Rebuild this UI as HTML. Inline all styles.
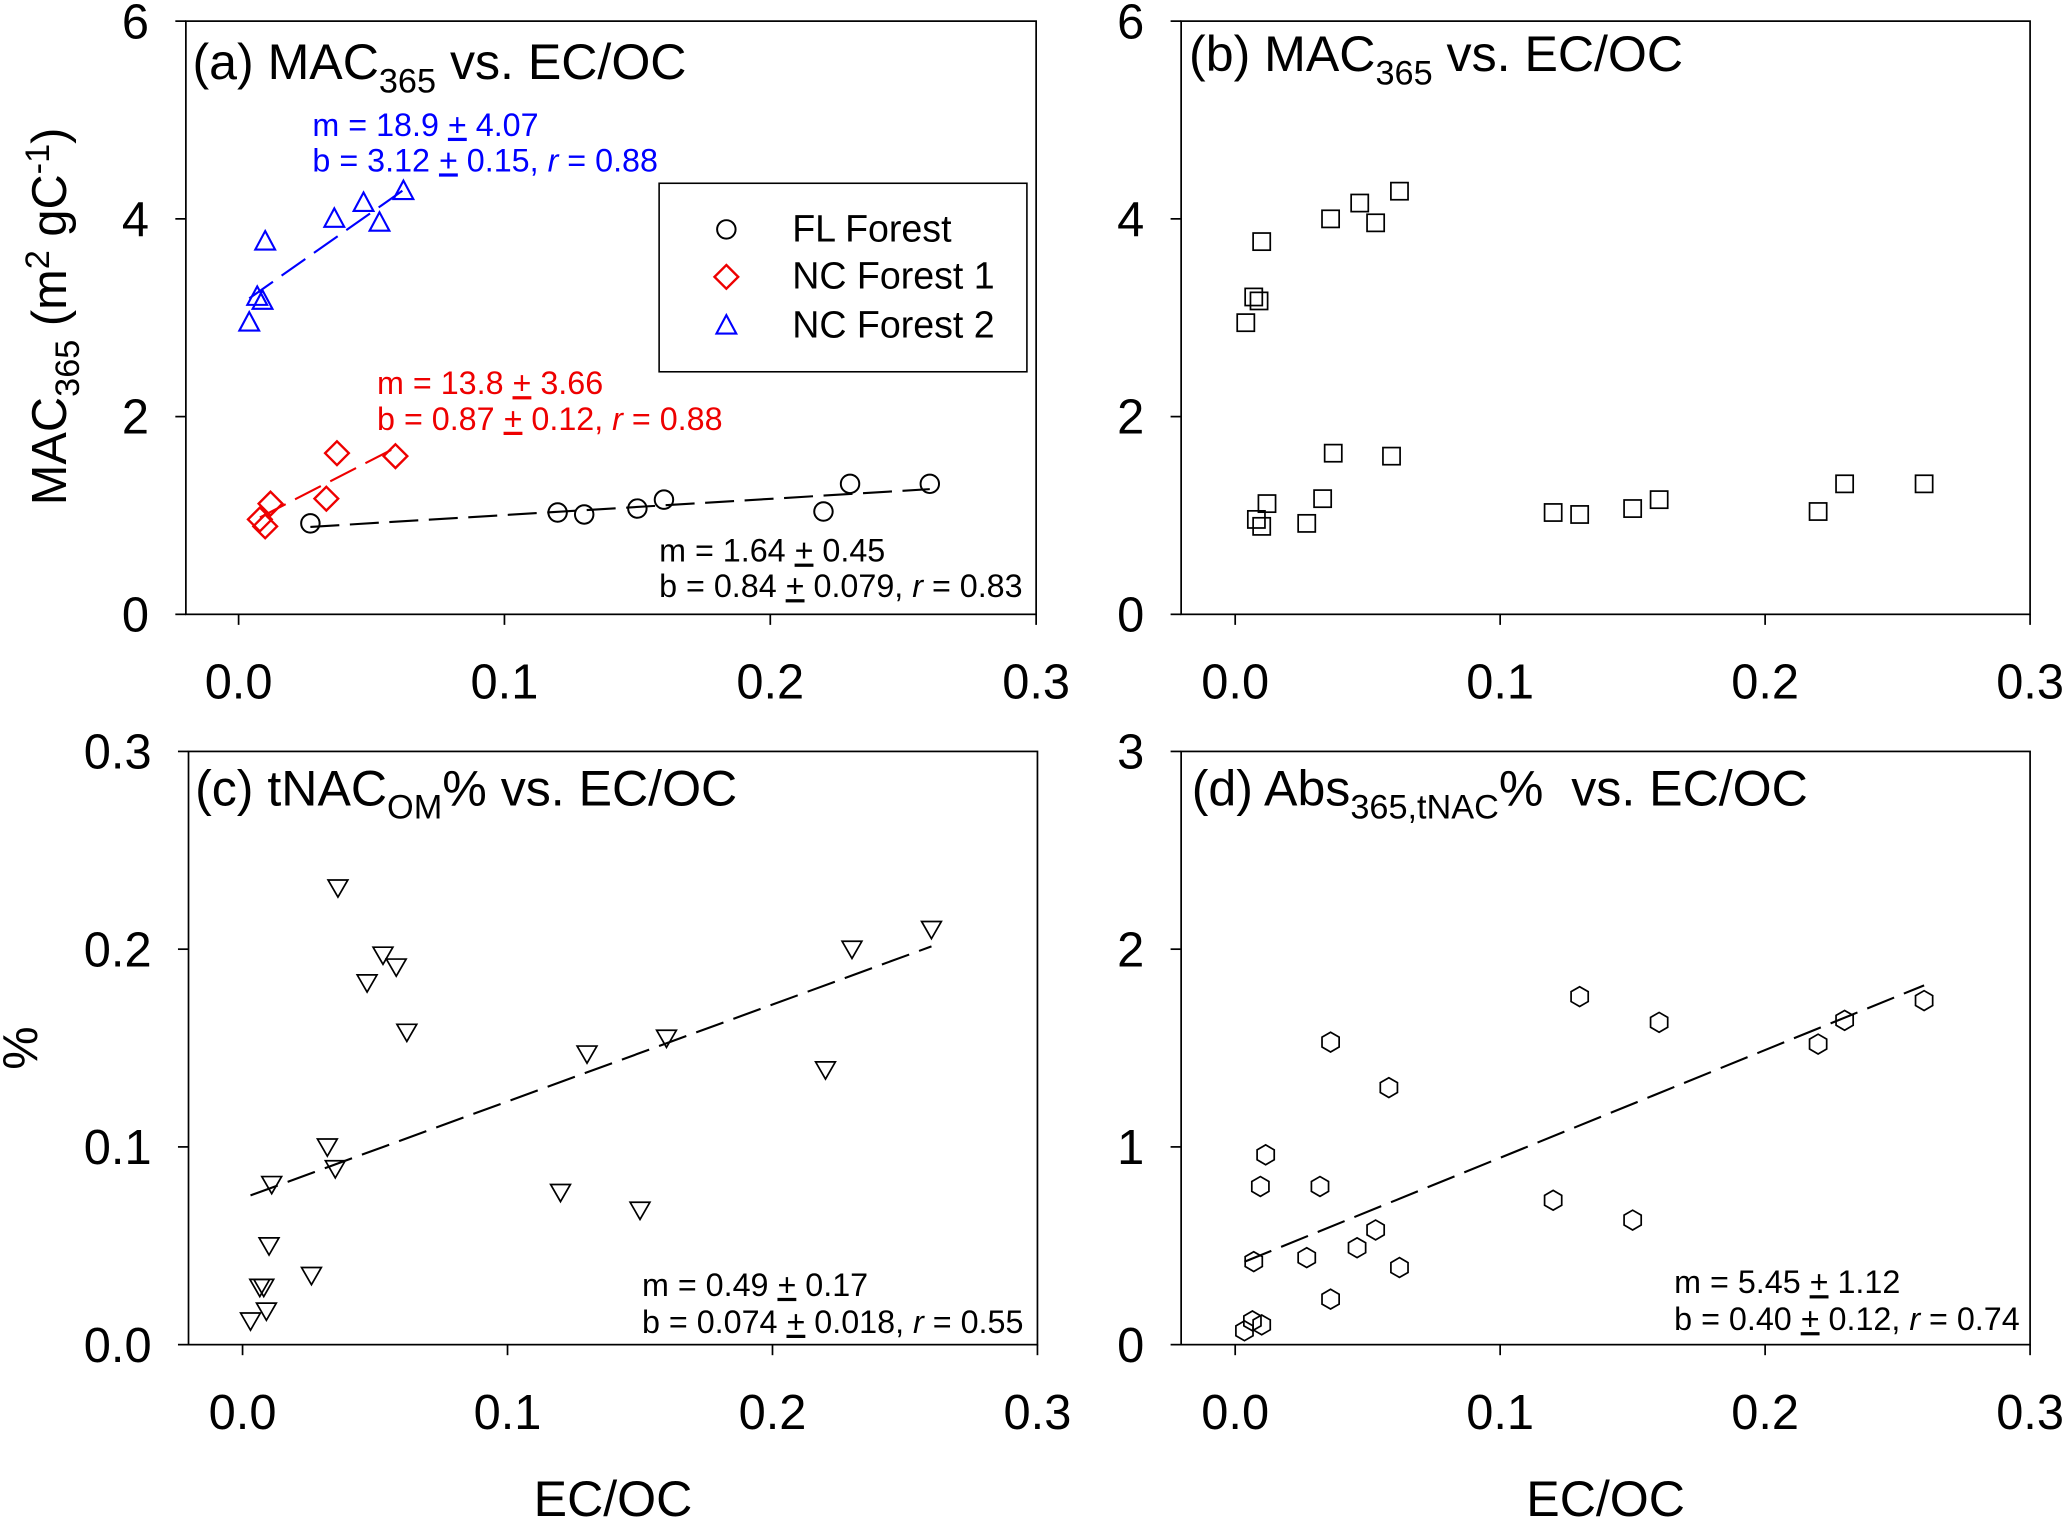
<!DOCTYPE html>
<html><head><meta charset="utf-8"><style>
html,body{margin:0;padding:0;background:#fff}
svg{display:block}
text{font-family:"Liberation Sans",Arial,sans-serif}
</style></head><body>
<svg id="fig" width="2067" height="1520" viewBox="0 0 1568 1153" xmlns="http://www.w3.org/2000/svg"></svg>
<script>
const flX=[0.027,0.12,0.13,0.15,0.16,0.22,0.23,0.26];
const flY=[0.92,1.03,1.01,1.07,1.16,1.04,1.32,1.32];
const nc1X=[0.008,0.01,0.012,0.033,0.037,0.059];
const nc1Y=[0.96,0.89,1.12,1.17,1.63,1.6];
const nc2X=[0.004,0.007,0.009,0.01,0.036,0.047,0.053,0.062];
const nc2Y=[2.95,3.21,3.17,3.77,4.0,4.16,3.96,4.28];
const tnX=[0.003,0.0065,0.008,0.009,0.01,0.011,0.026,0.032,0.035,0.036,0.047,0.053,0.058,0.062,0.12,0.13,0.15,0.16,0.22,0.23,0.26];
const tnY=[0.012,0.029,0.029,0.017,0.05,0.081,0.035,0.1,0.089,0.231,0.183,0.197,0.191,0.158,0.077,0.147,0.068,0.155,0.139,0.2,0.21];
const abX=[0.0035,0.0065,0.01,0.007,0.0095,0.0115,0.027,0.032,0.036,0.036,0.046,0.053,0.058,0.062,0.12,0.13,0.15,0.16,0.22,0.23,0.26];
const abY=[0.07,0.12,0.1,0.42,0.8,0.96,0.44,0.8,0.23,1.53,0.49,0.58,1.3,0.39,0.73,1.76,0.63,1.63,1.52,1.64,1.74];
const xTicks=["0.0","0.1","0.2","0.3"];
const ticksA=["0","2","4","6"];
const ticksC=["0.0","0.1","0.2","0.3"];
const ticksD=["0","1","2","3"];

const NS="http://www.w3.org/2000/svg";
const svg=document.getElementById('fig');
function el(tag,attrs,parent,txt){const e=document.createElementNS(NS,tag);for(const k in attrs)e.setAttribute(k,attrs[k]);if(txt!==undefined)e.textContent=txt;(parent||svg).appendChild(e);return e;}

function panel(name,L,R,T,B,x0px,ymax,yticks,ytickvals){
  const g=el('g',{},svg);
  
  
  const sx=v=>x0px+v*(R-x0px)/0.3;
  const sy=v=>B-v*(B-T)/ymax;
  const box=el('rect',{x:L,y:T,width:R-L,height:B-T,fill:'none',stroke:'#000','stroke-width':1.3},g);
  
  xTicks.forEach((t,i)=>{const x=sx(i*0.1);
    el('line',{x1:x,x2:x,y1:B,y2:B+8,stroke:'#000','stroke-width':1.3},g);
    const tx=el('text',{x:x,y:B+64,'font-size':37,'text-anchor':'middle'},g,t);
    });
  yticks.forEach((t,i)=>{const y=sy(ytickvals[i]);
    el('line',{x1:L-8,x2:L,y1:y,y2:y,stroke:'#000','stroke-width':1.3},g);
    const tx=el('text',{x:L-28,y:y+13,'font-size':37,'text-anchor':'end'},g,t);
    });
  return {g,sx,sy};
}
function marker(g,type,x,y,color){
  let m;
  if(type==='circle')m=el('circle',{cx:x,cy:y,r:7,fill:'none',stroke:color,'stroke-width':1.5},g);
  else if(type==='diamond')m=el('polygon',{points:`${x},${y-9} ${x+9},${y} ${x},${y+9} ${x-9},${y}`,fill:'none',stroke:color,'stroke-width':1.8},g);
  else if(type==='tri')m=el('polygon',{points:`${x},${y-8} ${x+7.5},${y+6} ${x-7.5},${y+6}`,fill:'none',stroke:color,'stroke-width':1.6},g);
  else if(type==='tridown')m=el('polygon',{points:`${x},${y+7} ${x+7.5},${y-6} ${x-7.5},${y-6}`,fill:'none',stroke:'#000','stroke-width':1.3},g);
  else if(type==='square')m=el('rect',{x:x-6.5,y:y-6.5,width:13,height:13,fill:'none',stroke:'#000','stroke-width':1.3},g);
  else {let p=[];for(let k=0;k<6;k++){const a=Math.PI/6+k*Math.PI/3;p.push((x+7.5*Math.cos(a))+','+(y+7.5*Math.sin(a)));}
    m=el('polygon',{points:p.join(' '),fill:'none',stroke:'#000','stroke-width':1.3},g);}
  
}
function fit(P,b,m,x1,x2,color,name){
  const l=el('line',{x1:P.sx(x1),y1:P.sy(b+m*x1),x2:P.sx(x2),y2:P.sy(b+m*x2),stroke:color,'stroke-width':1.6,'stroke-dasharray':'22,8'},P.g);
  
}
function txt(g,x,y,s,html,color,name,anchor){
  const t=el('text',{x:x,y:y,'font-size':s,fill:color||'#000','text-anchor':anchor||'start'},g);
  t.innerHTML=html;return t;
}
const TS=38, SS=24.5;
// panel a
const A=panel('panel-a',141,786,16,466,181,6,ticksA,[0,2,4,6]);
fit(A,0.84,1.64,0.027,0.26,'#000','fit-line-fl');
fit(A,0.87,13.8,0.008,0.06,'#e00','fit-line-nc1');
fit(A,3.12,18.9,0.004,0.062,'#00f','fit-line-nc2');
flX.forEach((x,i)=>marker(A.g,'circle',A.sx(x),A.sy(flY[i]),'#000'));
nc1X.forEach((x,i)=>marker(A.g,'diamond',A.sx(x),A.sy(nc1Y[i]),'#e00'));
nc2X.forEach((x,i)=>marker(A.g,'tri',A.sx(x),A.sy(nc2Y[i]),'#00f'));
txt(A.g,146,60,TS,'(a) MAC<tspan font-size="26" dy="10">365</tspan><tspan dy="-10"> vs. EC/OC</tspan>','#000','panel-a-title');
txt(A.g,237,103,SS,'m = 18.9 <tspan text-decoration="underline">+</tspan> 4.07','#00f','fit-stats-nc2');
txt(A.g,237,130,SS,'b = 3.12 <tspan text-decoration="underline">+</tspan> 0.15, <tspan font-style="italic">r</tspan> = 0.88','#00f','fit-stats-nc2');
txt(A.g,286,299,SS,'m = 13.8 <tspan text-decoration="underline">+</tspan> 3.66','#e00','fit-stats-nc1');
txt(A.g,286,326,SS,'b = 0.87 <tspan text-decoration="underline">+</tspan> 0.12, <tspan font-style="italic">r</tspan> = 0.88','#e00','fit-stats-nc1');
txt(A.g,500,426,SS,'m = 1.64 <tspan text-decoration="underline">+</tspan> 0.45','#000','fit-stats-fl');
txt(A.g,500,453,SS,'b = 0.84 <tspan text-decoration="underline">+</tspan> 0.079, <tspan font-style="italic">r</tspan> = 0.83','#000','fit-stats-fl');
const lg=el('g',{},A.g);
el('rect',{x:500,y:139,width:279,height:143,fill:'#fff',stroke:'#000','stroke-width':1.2},lg);
marker(lg,'circle',551,174,'#000');marker(lg,'diamond',551,210,'#e00');marker(lg,'tri',551,247,'#00f');
txt(lg,601,183,28.5,'FL Forest','#000','legend-entry');
txt(lg,601,219,28.5,'NC Forest 1','#000','legend-entry');
txt(lg,601,256,28.5,'NC Forest 2','#000','legend-entry');
const ya=txt(svg,0,0,37,'MAC<tspan font-size="26" dy="10">365</tspan><tspan dy="-10"> (m</tspan><tspan font-size="26" dy="-13">2</tspan><tspan dy="13"> gC</tspan><tspan font-size="26" dy="-13">-1</tspan><tspan dy="13">)</tspan>','#000','y-axis-title-a','middle');
ya.setAttribute('transform','translate(50,240) rotate(-90)');
// panel b
const Bp=panel('panel-b',896,1540,16,466,937,6,ticksA,[0,2,4,6]);
flX.concat(nc1X,nc2X).forEach((x,i)=>marker(Bp.g,'square',Bp.sx(x),Bp.sy(flY.concat(nc1Y,nc2Y)[i]),'#000'));
txt(Bp.g,902,54,TS,'(b) MAC<tspan font-size="26" dy="10">365</tspan><tspan dy="-10"> vs. EC/OC</tspan>','#000','panel-b-title');
// panel c
const C=panel('panel-c',143,787,570,1020,184,0.3,ticksC,[0,0.1,0.2,0.3]);
fit(C,0.074,0.49,0.003,0.26,'#000','fit-line-c');
tnX.forEach((x,i)=>marker(C.g,'tridown',C.sx(x),C.sy(tnY[i])));
txt(C.g,148,611,TS,'(c) tNAC<tspan font-size="26" dy="10">OM</tspan><tspan dy="-10">% vs. EC/OC</tspan>','#000','panel-c-title');
txt(C.g,487,983,SS,'m = 0.49 <tspan text-decoration="underline">+</tspan> 0.17','#000','fit-stats-c');
txt(C.g,487,1011,SS,'b = 0.074 <tspan text-decoration="underline">+</tspan> 0.018, <tspan font-style="italic">r</tspan> = 0.55','#000','fit-stats-c');
const yc=txt(svg,0,0,37,'%','#000','y-axis-title-c','middle');
yc.setAttribute('transform','translate(28,795) rotate(-90)');
// panel d
const D=panel('panel-d',896,1540,570,1020,937,3,ticksD,[0,1,2,3]);
fit(D,0.40,5.45,0.0035,0.26,'#000','fit-line-d');
abX.forEach((x,i)=>marker(D.g,'hex',D.sx(x),D.sy(abY[i])));
txt(D.g,904,611,TS,'(d) Abs<tspan font-size="26" dy="10">365,tNAC</tspan><tspan dy="-10" xml:space="preserve">%  vs. EC/OC</tspan>','#000','panel-d-title');
txt(D.g,1270,981,SS,'m = 5.45 <tspan text-decoration="underline">+</tspan> 1.12','#000','fit-stats-d');
txt(D.g,1270,1009,SS,'b = 0.40 <tspan text-decoration="underline">+</tspan> 0.12, <tspan font-style="italic">r</tspan> = 0.74','#000','fit-stats-d');
txt(svg,465,1150,38,'EC/OC','#000','x-axis-title-c','middle');
txt(svg,1218,1150,38,'EC/OC','#000','x-axis-title-d','middle');
</script>
</body></html>
